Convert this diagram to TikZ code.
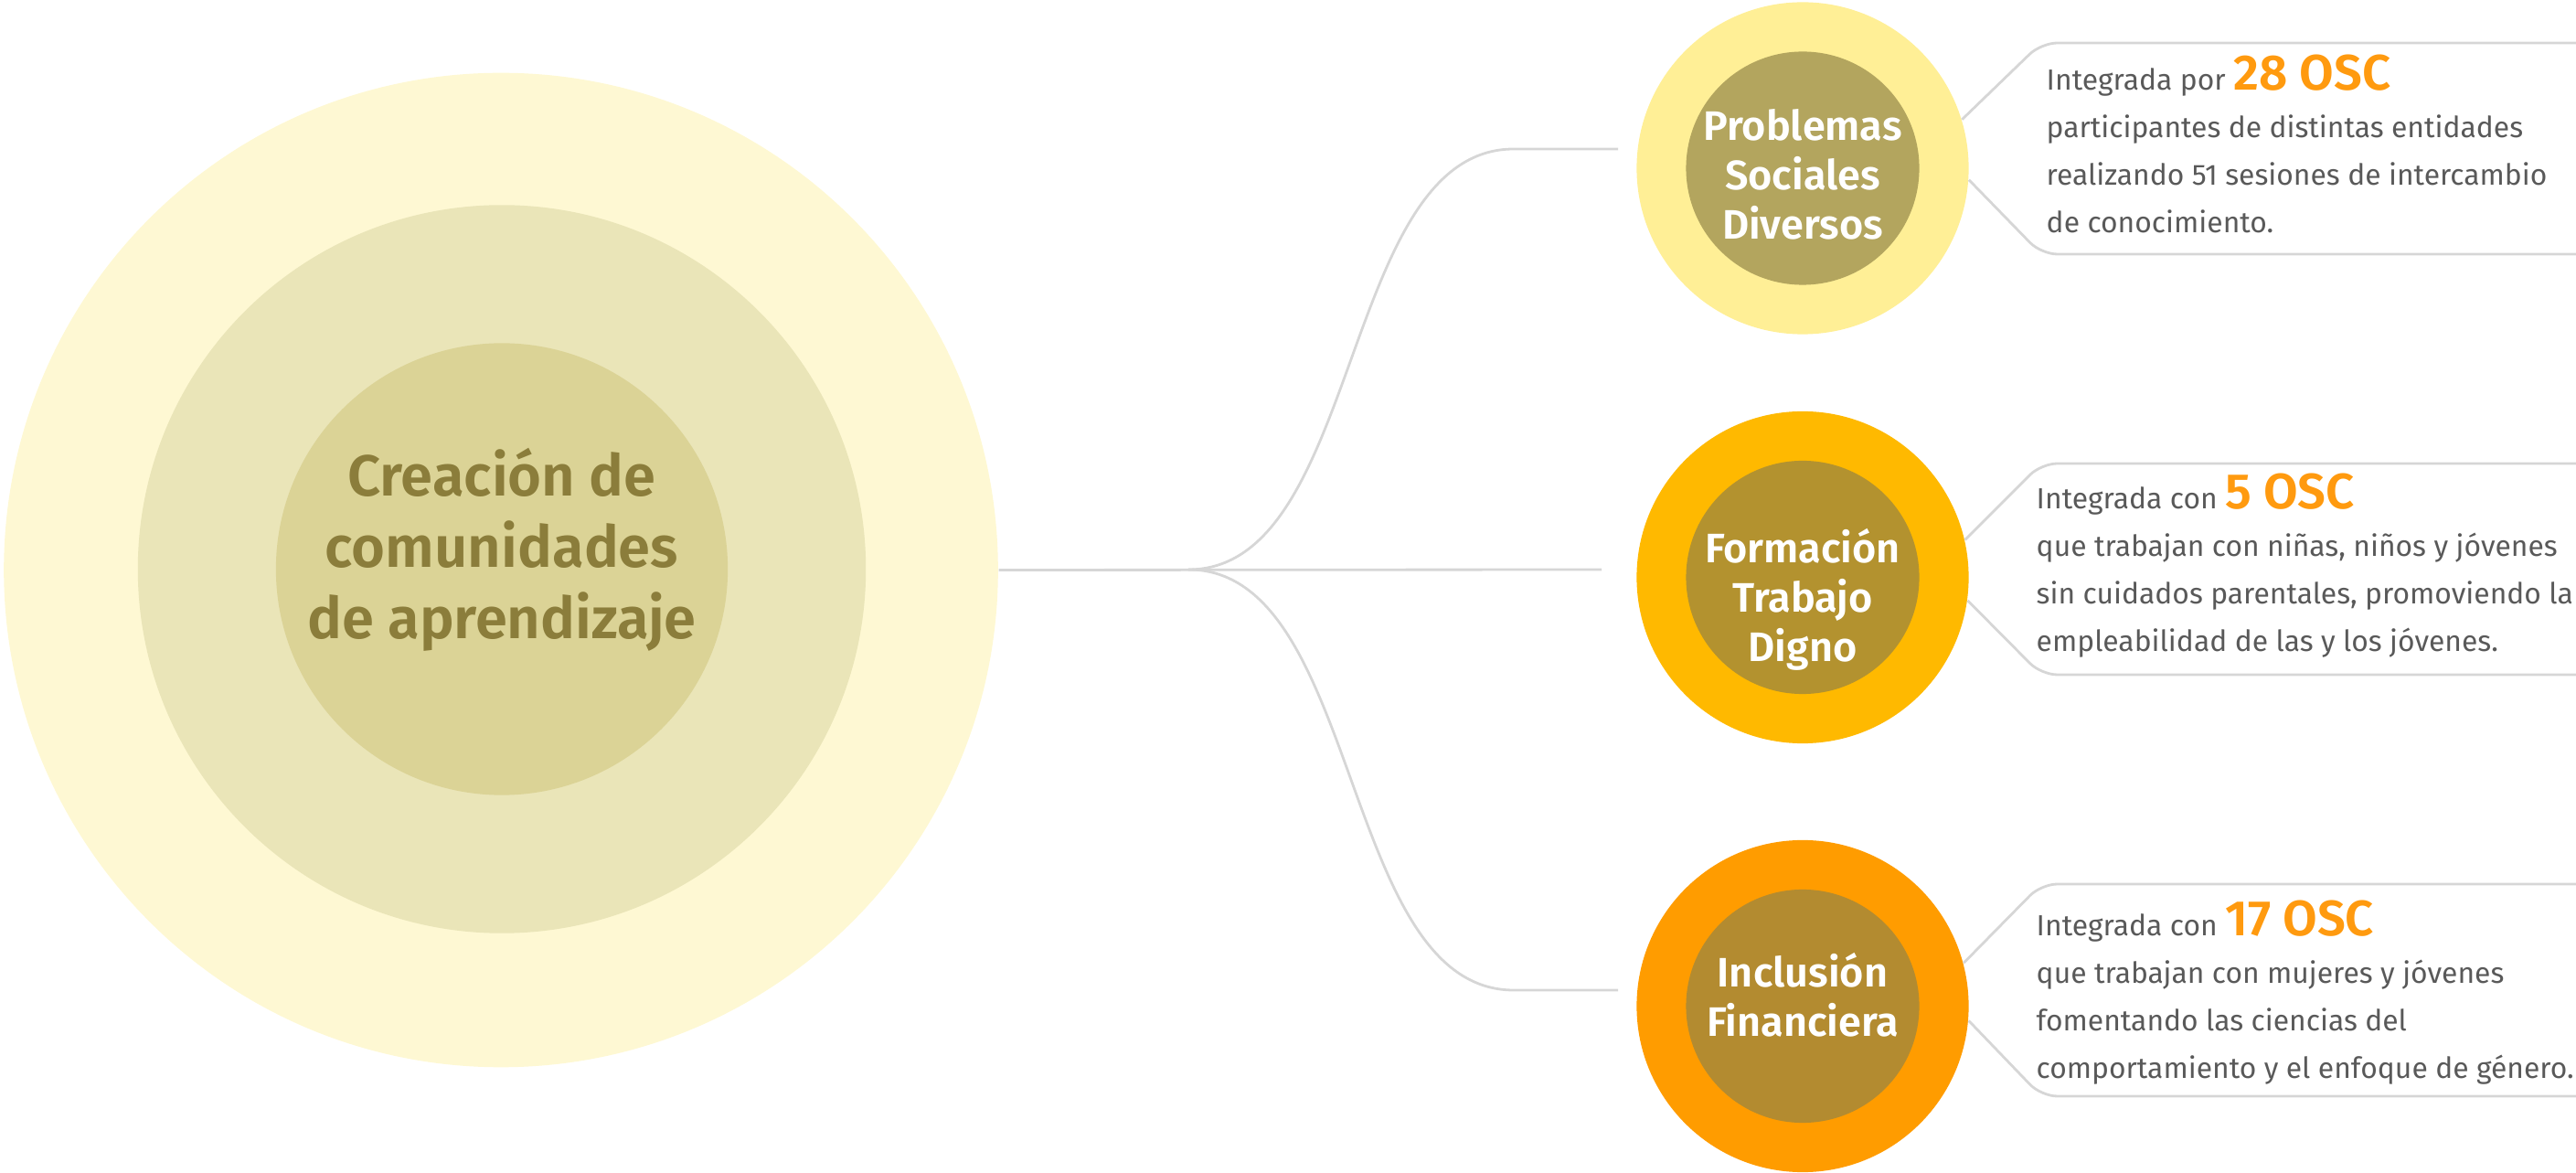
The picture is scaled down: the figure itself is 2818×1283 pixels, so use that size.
\documentclass[tikz,border=0pt]{standalone}
\usepackage{fontspec}
\setmainfont{Fira Sans}[BoldFont={Fira Sans SemiBold}]
\definecolor{ringA}{HTML}{FEF8D3}
\definecolor{ringB}{HTML}{EAE5B8}
\definecolor{ringC}{HTML}{DBD396}
\definecolor{titlecol}{HTML}{8B7D3B}
\definecolor{psdouter}{HTML}{FFEF96}
\definecolor{psdinner}{HTML}{B3A55E}
\definecolor{ftdouter}{HTML}{FFB900}
\definecolor{ftdinner}{HTML}{B3922F}
\definecolor{ifnouter}{HTML}{FF9C00}
\definecolor{ifninner}{HTML}{B38B30}
\definecolor{linegray}{HTML}{D6D6D6}
\definecolor{notegray}{HTML}{595959}
\definecolor{oscorange}{HTML}{FF9A0F}
\newcommand\bignum{\color{oscorange}\fontsize{15.5}{14.8}\selectfont\bfseries}
\begin{document}
\begin{tikzpicture}[x=0.01cm,y=-0.01cm,
  disc/.style={circle,inner sep=0pt,minimum size=#1},
  link/.style={draw=linegray,line width=0.8pt},
  bracket/.style={link,rounded corners=5pt},
  lbl/.style={align=center,text=white,font=\fontsize{12.8}{15.4}\selectfont\bfseries},
  note/.style={anchor=north west,inner sep=0pt,align=left,text=notegray,font=\fontsize{9.05}{14.8}\selectfont}]
  \useasboundingbox (0,0) rectangle (2818,1283);
  % central topic
  \node[disc=10.87cm,fill=ringA] (ring) at (548,623.5) {};
  \node[disc=7.96cm,fill=ringB] (ringmid) at (549,622.5) {};
  \node[disc=4.94cm,fill=ringC] (core) at (549,622.5) {};
  \node[align=center,text=titlecol,font=\fontsize{18}{22.2}\selectfont\bfseries] (title) at (549,601)
    {Creación de\\comunidades\\de aprendizaje};
  % branch topics
  \node[disc=3.63cm,fill=psdouter] (psd) at (1972,184) {};
  \node[disc=2.55cm,fill=psdinner] (psdcore) at (psd) {};
  \node[lbl] (psdtext) at (1972,191) {Problemas\\Sociales\\Diversos};
  \node[disc=3.63cm,fill=ftdouter] (ftd) at (1972,631.5) {};
  \node[disc=2.55cm,fill=ftdinner] (ftdcore) at (ftd) {};
  \node[lbl] (ftdtext) at (1972,656) {Formación\\Trabajo\\Digno};
  \node[disc=3.63cm,fill=ifnouter] (ifn) at (1972,1100.5) {};
  \node[disc=2.55cm,fill=ifninner] (ifncore) at (ifn) {};
  \node[lbl] (ifntext) at (1972,1088) {Inclusión\\Financiera};
  % connectors
  \coordinate (fork) at (1300,623);
  \coordinate (psdknee) at (1656,163);
  \coordinate (ifnknee) at (1656,1083);
  \coordinate (psdin) at (1770,163);
  \coordinate (ftdin) at (1752,623);
  \coordinate (ifnin) at (1770,1083);
  \draw[link] (ring.east) -- (ftdin);
  \draw[link] (fork) .. controls +(190,0) and +(-190,0) .. (psdknee) -- (psdin);
  \draw[link] (fork) .. controls +(190,0) and +(-190,0) .. (ifnknee) -- (ifnin);
  % notes
  \draw[bracket] (psd.17) -- (2233,47) -- (2818,47);
  \draw[bracket] (psd.-4) -- (2233,278) -- (2818,278);
  \node[note] (psdnote) at (2238,59) {Integrada por {\bignum 28 OSC}\\participantes de distintas entidades\\realizando 51 sesiones de intercambio\\de conocimiento.};
  \draw[bracket] (ftd.13) -- (2233,507) -- (2818,507);
  \draw[bracket] (ftd.-8) -- (2233,738) -- (2818,738);
  \node[note] (ftdnote) at (2227,517) {Integrada con {\bignum 5 OSC}\\que trabajan con niñas, niños y jóvenes\\sin cuidados parentales, promoviendo la\\empleabilidad de las y los jóvenes.};
  \draw[bracket] (ifn.15) -- (2233,967) -- (2818,967);
  \draw[bracket] (ifn.-5) -- (2233,1199) -- (2818,1199);
  \node[note] (ifnnote) at (2227,984) {Integrada con {\bignum 17 OSC}\\que trabajan con mujeres y jóvenes\\fomentando las ciencias del\\comportamiento y el enfoque de género.};
\end{tikzpicture}
\end{document}
